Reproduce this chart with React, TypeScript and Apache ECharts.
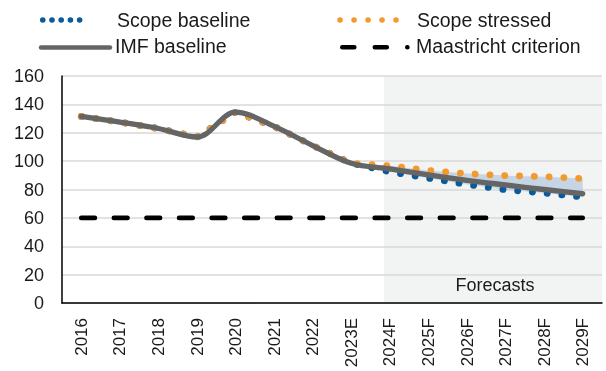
import React, { useEffect, useRef } from "react";
import * as echarts from "echarts";

const categories = ["2016", "2017", "2018", "2019", "2020", "2021", "2022", "2023E", "2024F", "2025F", "2026F", "2027F", "2028F", "2029F"];
const imfBaseline = [131.5, 127.5, 123, 117, 134.5, 124.5, 111, 98.5, 94.5, 90.3, 86.5, 83.2, 80, 77];
const scopeBaseline = [131.5, 127.5, 123, 117, 134.5, 124.5, 111, 98.5, 92.5, 88, 83.6, 79.8, 77.5, 74.7];
const scopeStressed = [131.5, 127.5, 123, 117, 134.5, 124.5, 111, 98.5, 96.7, 93.4, 91.2, 89.8, 89, 87.7];
const maastricht = [60, 60, 60, 60, 60, 60, 60, 60, 60, 60, 60, 60, 60, 60];
const bandStartIndex = 7;
const forecastShade = [8.35, 14];
const yMin = 0;
const yMax = 160;
const yInterval = 20;

const FONT = "Liberation Sans, Arial, sans-serif";
const BLUE = "#0a5a9c";
const ORANGE = "#f39a2f";
const GRAY = "#656565";
const LEGEND_FS = 19.5;

export default function App() {
  const ref = useRef<HTMLDivElement>(null);
  useEffect(() => {
    if (!ref.current) return;
    const chart = echarts.init(ref.current, null, { renderer: "svg" });
    const bandBase = scopeBaseline.map((v, i) => (i >= bandStartIndex ? v : null));
    const bandDiff = scopeStressed.map((v, i) => (i >= bandStartIndex ? +(v - scopeBaseline[i]).toFixed(2) : null));
    chart.setOption({
      animation: false,
      textStyle: { fontFamily: FONT },
      grid: { left: 62, right: 4, top: 76, bottom: 68, containLabel: false },
      xAxis: [
        {
          type: "category",
          data: categories,
          boundaryGap: true,
          axisLine: { show: true, lineStyle: { color: "#000", width: 1.5 } },
          axisTick: { show: false },
          axisLabel: { rotate: 90, fontSize: 17, margin: 15, color: "#1a1a1a", fontFamily: FONT },
          splitLine: { show: false },
        },
        { type: "value", min: 0, max: categories.length, show: false },
      ],
      yAxis: {
        type: "value",
        min: yMin,
        max: yMax,
        interval: yInterval,
        axisLine: { show: true, lineStyle: { color: "#000", width: 1.5 } },
        axisTick: { show: false },
        axisLabel: { fontSize: 18, margin: 18, color: "#1a1a1a", fontFamily: FONT },
        splitLine: { show: true, lineStyle: { color: "#d9d9d9", width: 1.5 } },
      },
      series: [
        {
          type: "line",
          xAxisIndex: 1,
          data: [[forecastShade[0], yMax], [forecastShade[1], yMax]],
          symbol: "none",
          lineStyle: { width: 0 },
          areaStyle: { color: "#f2f4f4", opacity: 1 },
          z: -1,
          silent: true,
        },
        {
          type: "line",
          data: bandBase,
          stack: "band",
          symbol: "none",
          lineStyle: { width: 0 },
          z: 1,
        },
        {
          type: "line",
          data: bandDiff,
          stack: "band",
          symbol: "none",
          lineStyle: { width: 0 },
          areaStyle: { color: "#c6d5e6", opacity: 1 },
          z: 1,
        },
        {
          name: "Scope baseline",
          type: "line",
          data: scopeBaseline,
          symbol: "none",
          lineStyle: { color: BLUE, width: 6.8, type: [0.1, 14.7], cap: "round", join: "round" },
          z: 2,
        },
        {
          name: "Scope stressed",
          type: "line",
          data: scopeStressed,
          symbol: "none",
          lineStyle: { color: ORANGE, width: 6.8, type: [0.1, 14.7], cap: "round", join: "round" },
          z: 3,
        },
        {
          name: "IMF baseline",
          type: "line",
          data: imfBaseline,
          smooth: 0.35,
          symbol: "none",
          lineStyle: { color: GRAY, width: 5.3, cap: "round", join: "round" },
          z: 4,
        },
        {
          name: "Maastricht criterion",
          type: "line",
          data: maastricht,
          symbol: "none",
          lineStyle: { color: "#000", width: 4.7, type: [13.6, 19], cap: "round" },
          z: 5,
        },
      ],
      graphic: [
        {
          type: "line",
          shape: { x1: 42.7, y1: 20, x2: 88.5, y2: 20 },
          style: { stroke: BLUE, lineWidth: 5.5, lineDash: [0.1, 9.12], lineCap: "round" },
        },
        {
          type: "text",
          x: 117,
          y: 20,
          style: { text: "Scope baseline", fontSize: LEGEND_FS, fontFamily: FONT, fill: "#1a1a1a", textVerticalAlign: "middle" },
        },
        {
          type: "line",
          shape: { x1: 340, y1: 20, x2: 396, y2: 20 },
          style: { stroke: ORANGE, lineWidth: 5.5, lineDash: [0.1, 13.9], lineCap: "round" },
        },
        {
          type: "text",
          x: 417,
          y: 20,
          style: { text: "Scope stressed", fontSize: LEGEND_FS, fontFamily: FONT, fill: "#1a1a1a", textVerticalAlign: "middle" },
        },
        {
          type: "line",
          shape: { x1: 41, y1: 47.5, x2: 110, y2: 47.5 },
          style: { stroke: GRAY, lineWidth: 4.5, lineCap: "round" },
        },
        {
          type: "text",
          x: 115,
          y: 46,
          style: { text: "IMF baseline", fontSize: LEGEND_FS, fontFamily: FONT, fill: "#1a1a1a", textVerticalAlign: "middle" },
        },
        {
          type: "line",
          shape: { x1: 342.3, y1: 47.3, x2: 407.4, y2: 47.3 },
          style: { stroke: "#000", lineWidth: 4.6, lineDash: [12, 20.5], lineCap: "round" },
        },
        {
          type: "text",
          x: 416,
          y: 46,
          style: { text: "Maastricht criterion", fontSize: LEGEND_FS, fontFamily: FONT, fill: "#1a1a1a", textVerticalAlign: "middle" },
        },
        {
          type: "text",
          x: 495,
          y: 285,
          style: { text: "Forecasts", fontSize: 18, fontFamily: FONT, fill: "#1a1a1a", textAlign: "center", textVerticalAlign: "middle" },
        },
      ],
    });
    return () => chart.dispose();
  }, []);
  return <div ref={ref} style={{ position: "fixed", left: 0, top: 0, width: 606, height: 371 }} />;
}
